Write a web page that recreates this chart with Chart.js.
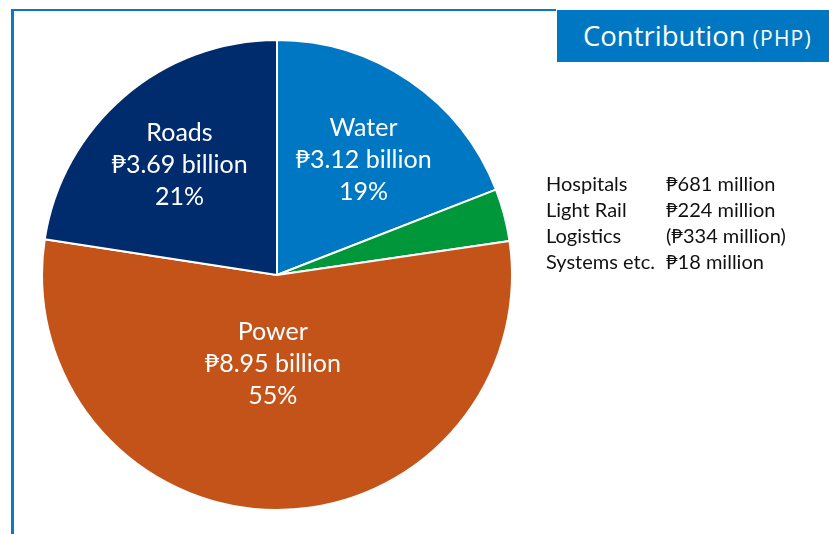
<!DOCTYPE html>
<html>
<head>
<meta charset="utf-8">
<script src="https://cdn.jsdelivr.net/npm/chart.js@4"></script>
<style>
  html, body { margin: 0; padding: 0; background: #fff; }
  #wrap { position: relative; width: 829px; height: 534px; overflow: hidden; }
  #frameTop { position: absolute; left: 11px; top: 9px; width: 545px; height: 2px; background: #0a78c8; }
  #frameLeft { position: absolute; left: 11px; top: 9px; width: 3px; height: 530px; background: #0a78c8; }
  #title { position: absolute; left: 557px; top: 10px; width: 272px; height: 52px; background: #0077c2;
           color: #fff; font-family: "Open Sans", sans-serif; font-size: 27.5px; line-height: 52px; padding-left: 26px; box-sizing: border-box; white-space: nowrap; }
  #title small { font-size: 21px; letter-spacing: 1.2px; }
  #others { position: absolute; left: 546px; top: 170px; font-family: Lato, "DejaVu Sans", sans-serif;
            font-size: 20px; color: #111; line-height: 26px; }
  #others td { padding: 0; white-space: nowrap; }
  canvas { position: absolute; left: 0; top: 0; }
</style>
</head>
<body>
<div id="wrap">
  <canvas id="pieChart" width="829" height="534"></canvas>
  <div id="frameTop"></div>
  <div id="frameLeft"></div>
  <div id="title">Contribution <small>(PHP)</small></div>
  <table id="others" cellspacing="0" cellpadding="0"></table>
</div>
<script>
// slices, clockwise from 12 o'clock
const categories = ["Water", "Others", "Power", "Roads"];
const values = [3.12, 0.589, 8.95, 3.69];           // PHP billion
const valueLabels = ["₱3.12 billion", "", "₱8.95 billion", "₱3.69 billion"];
const pctLabels = ["19%", "", "55%", "21%"];
const colors = ["#0077c2", "#00963a", "#c4531a", "#002c6e"];

// the small green slice, listed at the side
const otherNames = ["Hospitals", "Light Rail", "Logistics", "Systems etc."];
const otherAmounts = ["₱681 million", "₱224 million", "(₱334 million)", "₱18 million"];

// label placement inside slices: fraction of radius, angle nudge in degrees
const labelRadius = [0.614, 0, 0.38, 0.627];
const labelNudge = [2.5, 0, 2.5, -0.8];

const tbl = document.getElementById("others");
otherNames.forEach((n, i) => {
  const tr = document.createElement("tr");
  tr.innerHTML = "<td style='width:120px'>" + n + "</td><td>" + otherAmounts[i] + "</td>";
  tbl.appendChild(tr);
});

const sliceLabels = {
  id: "sliceLabels",
  afterDatasetsDraw(chart) {
    const ctx = chart.ctx;
    const meta = chart.getDatasetMeta(0);
    ctx.save();
    ctx.fillStyle = "#fff";
    ctx.textAlign = "center";
    ctx.textBaseline = "middle";
    ctx.font = "25px Lato, 'DejaVu Sans', sans-serif";
    meta.data.forEach((arc, i) => {
      if (!valueLabels[i]) return;
      const mid = (arc.startAngle + arc.endAngle) / 2 + labelNudge[i] * Math.PI / 180;
      const r = arc.outerRadius * labelRadius[i];
      const x = arc.x + Math.cos(mid) * r;
      const y = arc.y + Math.sin(mid) * r;
      ctx.fillText(categories[i], x, y - 32);
      ctx.fillText(valueLabels[i], x, y);
      ctx.fillText(pctLabels[i], x, y + 32);
    });
    ctx.restore();
  }
};

const chart = new Chart(document.getElementById("pieChart"), {
  type: "pie",
  data: {
    labels: categories,
    datasets: [{
      data: values,
      backgroundColor: colors,
      borderColor: "#fff",
      borderWidth: 2
    }]
  },
  options: {
    responsive: false,
    animation: false,
    layout: { padding: { left: 41, right: 316, top: 39, bottom: 23 } },
    plugins: {
      legend: { display: false },
      tooltip: { enabled: false }
    }
  },
  plugins: [sliceLabels]
});
</script>
</body>
</html>
